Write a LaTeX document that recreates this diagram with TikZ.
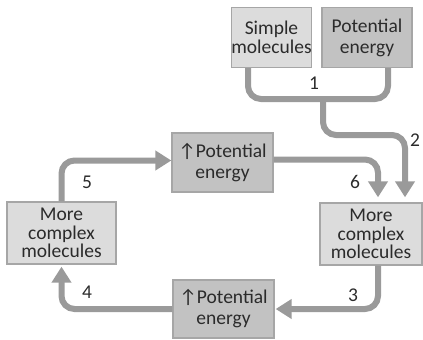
\documentclass[tikz,border=0pt]{standalone}
\usepackage{fontspec}
\setmainfont{Carlito}
\usetikzlibrary{positioning, arrows.meta}

\definecolor{fondoclaro}{HTML}{DCDCDC}
\definecolor{fondooscuro}{HTML}{C2C2C2}
\definecolor{borde}{HTML}{A6A6A6}
\definecolor{flechagris}{HTML}{9A9A9A}
\definecolor{texto}{HTML}{2B2B2B}

\begin{document}
\begin{tikzpicture}[x=1pt, y=-1pt,
	caja/.style={draw=borde, line width=1.3pt, inner sep=0pt, align=center, text=texto,
		font=\fontsize{19.5}{18.5}\selectfont},
	molec/.style={caja, fill=fondoclaro},
	energia/.style={caja, fill=fondooscuro, font=\fontsize{19.5}{21}\selectfont},
	conector/.style={draw=flechagris, line width=6pt, rounded corners=13pt},
	flecha/.style={conector, -{Triangle[width=19pt, length=16pt]}},
	numero/.style={text=texto, font=\fontsize{19.5}{19.5}\selectfont}
	]
	\useasboundingbox (0,0) rectangle (423,340);
	
	% Cajas
	\node[molec, minimum width=75pt, minimum height=60pt] (simple) at (271.5,37.5) {Simple\\molecules};
	\node[energia, minimum width=90pt, minimum height=60pt] (potSup) at (367,37.5) {Potential\\energy};
	\node[energia, minimum width=101pt, minimum height=59pt] (potMed) at (222.5,162.5) {↑Potential\\energy};
	\node[molec, minimum width=102pt, minimum height=62pt] (complejoDer) at (371,234) {More\\complex\\molecules};
	\node[molec, minimum width=109pt, minimum height=62pt] (complejoIzq) at (61.5,233) {More\\complex\\molecules};
	\node[energia, minimum width=101pt, minimum height=58pt] (potInf) at (223.5,309) {↑Potential\\energy};
	
	% Puntos de union
	\coordinate (union) at (323,99);
	\coordinate (codo) at (405,135);
	
	% Llave de la reaccion 1
	\draw[conector] ([xshift=-23.5pt]simple.south) |- (union) -| ([xshift=21pt]potSup.south);
	
	% Flechas del ciclo
	\draw[flecha, shorten >=5pt] (union) |- (codo) -- ([xshift=34pt]complejoDer.north);
	\draw[flecha, shorten >=5pt] ([yshift=3pt]potMed.east) -| ([xshift=7pt]complejoDer.north);
	\draw[flecha] ([xshift=7pt]complejoDer.south) |- ([xshift=1pt]potInf.east);
	\draw[flecha, shorten >=2pt] (potInf.west) -| (complejoIzq.south);
	\draw[flecha] (complejoIzq.north) |- ([yshift=2pt]potMed.west);
	
	% Numeros de las reacciones
	\foreach \n/\x/\y in {1/314/83, 2/415/140, 3/353/295, 4/87/292, 5/87/182, 6/355/182} {
		\node[numero] (num\n) at (\x,\y) {\n};
	}
	
\end{tikzpicture}
\end{document}
